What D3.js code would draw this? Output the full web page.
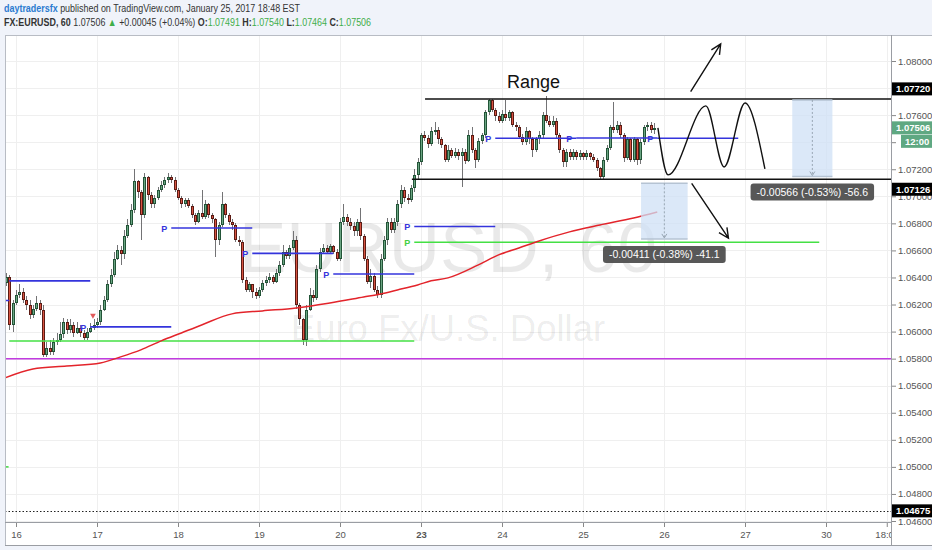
<!DOCTYPE html>
<html><head><meta charset="utf-8">
<script src="https://cdn.jsdelivr.net/npm/d3@7"></script>
<style>
html,body{margin:0;padding:0;background:#f0f3fa;}
svg{display:block;}
text{font-family:"Liberation Sans",Arial,sans-serif;}
</style></head><body>
<svg id="chart" width="932" height="550"></svg>
<script>
// ---------------- DATA ----------------
const symbolText = "EURUSD, 60";
const descriptionText = "Euro Fx/U.S. Dollar";
const startHour = -3;           // hour index of first candle (0 = Jan 16 00:00)
const firstOpen = 1.0636;
const closes = [
 // Jan 16
 1.0640,1.0605,1.0621,1.0627,1.0629,1.0623,1.0620,1.0612,1.0617,1.0621,1.0616,1.0583,1.0588,1.0585,1.0592,1.0594,1.0598,1.0607,1.0601,1.0605,1.0599,1.0603,1.0599,1.0595,1.0600,1.0603,1.0605,
 // Jan 17
 1.0607,1.0616,1.0623,1.0635,1.0642,1.0654,1.0660,1.0657,1.0671,1.0679,1.0690,1.0711,1.0703,1.0686,1.0714,1.0701,1.0694,1.0699,1.0705,1.0708,1.0712,1.0714,1.0712,1.0705,
 // Jan 18
 1.0699,1.0694,1.0697,1.0693,1.0686,1.0681,1.0688,1.0685,1.0694,1.0686,1.0683,1.0668,1.0679,1.0694,1.0686,1.0681,1.0679,1.0668,1.0666,1.0638,1.0631,1.0635,1.0629,1.0626,
 // Jan 19
 1.0631,1.0636,1.0638,1.0640,1.0637,1.0643,1.0649,1.0659,1.0656,1.0662,1.0668,1.0620,1.0609,1.0594,1.0616,1.0627,1.0625,1.0646,1.0659,1.0662,1.0659,1.0663,1.0659,1.0654,
 // Jan 20
 1.0681,1.0685,1.0681,1.0678,1.0674,1.0681,1.0671,1.0654,1.0637,1.0641,1.0631,1.0627,1.0654,1.0668,1.0681,1.0675,1.0681,1.0694,1.0705,1.0699,1.0697,1.0706,1.0716,1.0725,
 // Jan 23
 1.0745,1.0743,1.0739,1.0748,1.0749,1.0742,1.0738,1.0727,1.0734,1.0730,1.0733,1.0730,1.0733,1.0726,1.0745,1.0734,1.0727,1.0741,1.0745,1.0762,1.0771,1.0764,1.0759,1.0756,
 // Jan 24
 1.0761,1.0758,1.0762,1.0753,1.0751,1.0744,1.0740,1.0748,1.0742,1.0734,1.0742,1.0745,1.0760,1.0756,1.0753,1.0756,1.0745,1.0734,1.0725,1.0733,1.0729,1.0733,1.0729,1.0732,
 // Jan 25
 1.0729,1.0732,1.0729,1.0727,1.0721,1.0714,1.0727,1.0736,1.0751,1.0749,1.0753,1.0745,1.0728,1.0742,1.0727,1.0742,1.0727,1.0740,1.0751,1.0753,1.07491,1.07506
];
const highs = [
 1.0643,1.0642,1.0623,1.0631,1.0635,1.0632,1.0626,1.0623,1.0620,1.0626,1.0623,1.0620,1.0592,1.0594,1.0595,1.0599,1.0607,1.0610,1.0609,1.0609,1.0607,1.0607,1.0605,1.0601,1.0603,1.0606,1.0609,
 1.0610,1.0620,1.0626,1.0638,1.0646,1.0659,1.0664,1.0663,1.0675,1.0683,1.0694,1.0720,1.0712,1.0705,1.0717,1.0715,1.0703,1.0701,1.0707,1.0711,1.0714,1.0717,1.0716,1.0714,
 1.0706,1.0700,1.0699,1.0699,1.0694,1.0688,1.0690,1.0705,1.0697,1.0695,1.0688,1.0684,1.0681,1.0703,1.0695,1.0688,1.0683,1.0680,1.0671,1.0668,1.0640,1.0637,1.0635,1.0632,
 1.0633,1.0638,1.0641,1.0643,1.0642,1.0646,1.0652,1.0664,1.0660,1.0664,1.0674,1.0671,1.0621,1.0610,1.0620,1.0632,1.0631,1.0649,1.0662,1.0665,1.0664,1.0665,1.0664,1.0661,
 1.0684,1.0694,1.0687,1.0684,1.0681,1.0683,1.0691,1.0672,1.0656,1.0646,1.0643,1.0634,1.0657,1.0671,1.0684,1.0684,1.0684,1.0697,1.0708,1.0707,1.0702,1.0708,1.0720,1.0728,
 1.0747,1.0748,1.0745,1.0751,1.0755,1.0751,1.0744,1.0739,1.0738,1.0736,1.0736,1.0735,1.0736,1.0735,1.0749,1.0751,1.0736,1.0743,1.0747,1.0764,1.0772,1.0772,1.0765,1.0762,
 1.0764,1.0771,1.0764,1.0763,1.0755,1.0753,1.0746,1.0751,1.0749,1.0744,1.0744,1.0748,1.0762,1.0774,1.0759,1.0759,1.0758,1.0747,1.0736,1.0735,1.0735,1.0735,1.0734,1.0734,
 1.0733,1.0734,1.0733,1.0731,1.0728,1.0722,1.0729,1.0738,1.0753,1.0770,1.0756,1.0755,1.0747,1.0744,1.0743,1.0744,1.0743,1.0742,1.0753,1.0755,1.0755,1.07540
];
const lows = [
 1.0634,1.0601,1.0600,1.0620,1.0625,1.0621,1.0616,1.0609,1.0610,1.0615,1.0612,1.0581,1.0581,1.0583,1.0583,1.0590,1.0592,1.0595,1.0598,1.0599,1.0596,1.0598,1.0596,1.0594,1.0594,1.0599,1.0601,
 1.0603,1.0605,1.0615,1.0622,1.0633,1.0640,1.0653,1.0649,1.0654,1.0669,1.0677,1.0688,1.0699,1.0668,1.0684,1.0697,1.0691,1.0691,1.0697,1.0703,1.0706,1.0710,1.0710,1.0703,
 1.0697,1.0691,1.0692,1.0691,1.0684,1.0679,1.0680,1.0683,1.0683,1.0684,1.0680,1.0655,1.0664,1.0677,1.0684,1.0679,1.0675,1.0666,1.0663,1.0636,1.0629,1.0629,1.0625,1.0624,
 1.0625,1.0629,1.0634,1.0636,1.0635,1.0636,1.0641,1.0648,1.0654,1.0654,1.0660,1.0617,1.0605,1.0590,1.0589,1.0615,1.0622,1.0623,1.0644,1.0657,1.0657,1.0657,1.0657,1.0652,
 1.0652,1.0679,1.0678,1.0675,1.0671,1.0671,1.0668,1.0652,1.0635,1.0632,1.0629,1.0625,1.0625,1.0652,1.0664,1.0673,1.0673,1.0678,1.0691,1.0696,1.0694,1.0696,1.0703,1.0712,
 1.0723,1.0741,1.0736,1.0737,1.0745,1.0739,1.0736,1.0725,1.0725,1.0728,1.0728,1.0727,1.0707,1.0724,1.0725,1.0732,1.0721,1.0725,1.0739,1.0743,1.0760,1.0762,1.0756,1.0754,
 1.0754,1.0756,1.0756,1.0751,1.0748,1.0742,1.0738,1.0738,1.0739,1.0729,1.0733,1.0739,1.0743,1.0754,1.0751,1.0751,1.0743,1.0732,1.0722,1.0722,1.0727,1.0727,1.0727,1.0727,
 1.0727,1.0727,1.0727,1.0725,1.0719,1.0713,1.0713,1.0725,1.0734,1.0747,1.0747,1.0743,1.0725,1.0727,1.0725,1.0725,1.0723,1.0724,1.0738,1.0748,1.0747,1.07464
];
// moving average (read at sample hours)
const maHours  = [-4,5,15,25,31,37,43,49,55,64,73,83,93,103,108,113,119,123,128,137,143,149,155,164,173,183,190];
const maValues = [1.05650,1.05724,1.05746,1.05768,1.05813,1.05865,1.05931,1.05990,1.06049,1.06131,1.06153,1.06175,1.06212,1.06256,1.06278,1.06308,1.06345,1.06375,1.06397,1.06493,1.06567,1.06618,1.06670,1.06737,1.06788,1.06840,1.06884];
// daily pivot levels (blue), weekly (green), monthly (magenta)
const dailyPivotStarts = [-26,-2,22,46,70,94,118,142,166,190];
const dailyPivotValues = [1.0623,1.06375,1.06035,1.06766,1.06578,1.06426,1.06777,1.07429,1.07431,1.07429];
const weeklyPivotStarts = [-2,118];
const weeklyPivotValues = [1.0593,1.0666];
const monthlyLevel = 1.0580;
const leftStubLevel = 1.0500;
const pivotMarkerHour = 22.8, pivotMarkerValue = 1.0612;
// range drawing
const rangeTop = 1.07720, rangeBottom = 1.07126;
const rangeTopStart = 121.2, rangeBottomStart = 117.3;
const rangeLabel = "Range", rangeLabelHour = 145.5, rangeLabelValue = 1.07801;
const lowLine = 1.04675;
// hand-drawn wave & arrows (hour, price)
const waveHours  = [190.2,193.2,204.4,209.8,216.0,221.9];
const waveValues = [1.07505,1.07158,1.07668,1.07217,1.07690,1.07202];
const arrowUp   = {h:[199.9,208.8], v:[1.07773,1.08126]};
const arrowDown = {h:[200.2,211.1], v:[1.07096,1.06690]};
// price-range measurements
const measureHours  = [[185.2,199.0],[230.0,241.9]];
const measureValues = [[1.07096,1.06685],[1.07712,1.07146]];
const measureLabels = ["-0.00411 (-0.38%) -41.1","-0.00566 (-0.53%) -56.6"];
// axes
const priceTicks = [1.046,1.048,1.050,1.052,1.054,1.056,1.058,1.060,1.062,1.064,1.066,1.068,1.070,1.072,1.074,1.076,1.078,1.080];
const hiddenPriceLabels = [1.074,1.078];
const dayTickHours  = [0,24,48,72,96,120,144,168,192,216,240,258];
const dayTickLabels = ["16","17","18","19","20","23","24","25","26","27","30","18:00"];
const blackBadges = [1.07720,1.07126,1.04675];
const lastPrice = 1.07506, countdown = "12:00";
// header
const author = "daytradersfx";
const publishedText = " published on TradingView.com, January 25, 2017 18:48 EST";
const ohlc = {o:"1.07491",h:"1.07540",l:"1.07464",c:"1.07506"};

// ---------------- LAYOUT ----------------
const svg = d3.select("#chart");
const P = {l:5, r:891, t:35, b:522, bottom:545};
const x = d3.scaleLinear().domain([0,240]).range([16,826]);
const y = d3.scaleLinear().domain([1.046,1.080]).range([521,61]);

svg.append("rect").attr("width",932).attr("height",550).attr("fill","#f0f3fa");
svg.append("rect").attr("x",P.l).attr("y",P.t).attr("width",932-P.l).attr("height",P.bottom-P.t).attr("fill","#fff");

const defs = svg.append("defs");
defs.append("clipPath").attr("id","plotclip").append("rect")
  .attr("x",P.l+1).attr("y",P.t+1).attr("width",P.r-P.l-1).attr("height",P.b-P.t-1);
defs.append("clipPath").attr("id","xclip").append("rect")
  .attr("x",P.l).attr("y",P.b).attr("width",P.r-P.l).attr("height",P.bottom-P.b);

const g = svg.append("g").attr("clip-path","url(#plotclip)");

// grid
g.append("g").selectAll("line").data(priceTicks).join("line")
  .attr("x1",P.l).attr("x2",P.r)
  .attr("y1",d=>Math.round(y(d))+0.5).attr("y2",d=>Math.round(y(d))+0.5)
  .attr("stroke","#efefef");
g.append("g").selectAll("line").data(dayTickHours).join("line")
  .attr("y1",P.t).attr("y2",P.b)
  .attr("x1",d=>Math.round(x(d))+0.5).attr("x2",d=>Math.round(x(d))+0.5)
  .attr("stroke","#efefef");

// watermark
g.append("text").attr("x",448).attr("y",272).attr("text-anchor","middle")
  .attr("font-size",71).attr("fill","#000").attr("fill-opacity",0.085).text(symbolText);
g.append("text").attr("x",448).attr("y",341).attr("text-anchor","middle")
  .attr("font-size",36.5).attr("fill","#000").attr("fill-opacity",0.085).text(descriptionText);

// candles
const candles = closes.map((c,i)=>({h:startHour+i, o:i?closes[i-1]:firstOpen, c, hi:highs[i], lo:lows[i]}));
const cg = g.append("g").attr("shape-rendering","crispEdges");
cg.selectAll("line").data(candles).join("line")
  .attr("x1",d=>Math.round(x(d.h))+0.5).attr("x2",d=>Math.round(x(d.h))+0.5)
  .attr("y1",d=>y(Math.max(d.hi,d.o,d.c))).attr("y2",d=>y(Math.min(d.lo,d.o,d.c)))
  .attr("stroke","#737375");
cg.selectAll("rect").data(candles).join("rect")
  .attr("x",d=>Math.round(x(d.h))-0.5).attr("width",2)
  .attr("y",d=>Math.round(y(Math.max(d.o,d.c)))+0.5)
  .attr("height",d=>Math.max(0.5,Math.round(y(Math.min(d.o,d.c)))-Math.round(y(Math.max(d.o,d.c)))-1))
  .attr("fill",d=>d.c>=d.o?"#6ba583":"#d75442")
  .attr("stroke",d=>d.c>=d.o?"#225437":"#5b1a13").attr("stroke-width",1);

// indicator levels
g.append("line").attr("x1",P.l).attr("x2",P.r).attr("y1",y(monthlyLevel)).attr("y2",y(monthlyLevel))
  .attr("stroke","#c13be0").attr("stroke-width",1.5);
g.append("line").attr("x1",P.l).attr("x2",x(startHour+0.8)).attr("y1",y(leftStubLevel)).attr("y2",y(leftStubLevel))
  .attr("stroke","#3fd83f").attr("stroke-width",1.5);
const wk = weeklyPivotStarts.map((s,i)=>({s,e:s+120,v:weeklyPivotValues[i]}));
g.append("g").selectAll("line").data(wk).join("line")
  .attr("x1",d=>x(d.s)).attr("x2",d=>x(d.e)).attr("y1",d=>y(d.v)).attr("y2",d=>y(d.v))
  .attr("stroke","#44e044").attr("stroke-width",1.6);
g.append("g").selectAll("text").data(wk.filter(d=>x(d.s)-10>P.l)).join("text")
  .attr("x",d=>x(d.s)-10).attr("y",d=>y(d.v)+4).attr("font-size",9).attr("font-weight","bold")
  .attr("fill","#44d044").text("P");
const dp = dailyPivotStarts.map((s,i)=>({s,e:s+24,v:dailyPivotValues[i]}));
g.append("g").selectAll("line").data(dp).join("line")
  .attr("x1",d=>x(d.s)).attr("x2",d=>x(d.e)).attr("y1",d=>y(d.v)).attr("y2",d=>y(d.v))
  .attr("stroke","#3434dc").attr("stroke-width",1.6);
g.append("g").selectAll("text").data(dp.filter(d=>x(d.s)-10>P.l)).join("text")
  .attr("x",d=>x(d.s)-10).attr("y",d=>y(d.v)+4).attr("font-size",9).attr("font-weight","bold")
  .attr("fill","#3434dc").text("P");
g.append("path").attr("d",d3.symbol(d3.symbolTriangle,14)())
  .attr("transform",`translate(${x(pivotMarkerHour)},${y(pivotMarkerValue)}) rotate(180)`)
  .attr("fill","#e05a5a");

// moving average
const ma = maHours.map((h,i)=>[h,maValues[i]]);
g.append("path").datum(ma).attr("fill","none").attr("stroke","#e3242b").attr("stroke-width",1.5)
  .attr("d",d3.line().x(d=>x(d[0])).y(d=>y(d[1])).curve(d3.curveMonotoneX));

// range drawing
g.append("line").attr("x1",x(rangeTopStart)).attr("x2",P.r).attr("y1",y(rangeTop)).attr("y2",y(rangeTop))
  .attr("stroke","#111").attr("stroke-width",1.5);
g.append("line").attr("x1",x(rangeBottomStart)).attr("x2",P.r).attr("y1",y(rangeBottom)).attr("y2",y(rangeBottom))
  .attr("stroke","#111").attr("stroke-width",1.5);
g.append("text").attr("x",x(rangeLabelHour)).attr("y",y(rangeLabelValue)).attr("font-size",18)
  .attr("fill","#111").text(rangeLabel);
g.append("line").attr("x1",P.l).attr("x2",P.r).attr("y1",Math.round(y(lowLine))+0.5).attr("y2",Math.round(y(lowLine))+0.5)
  .attr("stroke","#222").attr("stroke-dasharray","1.5,2");

// wave and arrows
const wave = waveHours.map((h,i)=>[h,waveValues[i]]);
g.append("path").datum(wave).attr("fill","none").attr("stroke","#111").attr("stroke-width",1.4)
  .attr("d",d3.line().x(d=>x(d[0])).y(d=>y(d[1])).curve(d3.curveMonotoneX));
function arrow(a){
  const x1=x(a.h[0]),y1=y(a.v[0]),x2=x(a.h[1]),y2=y(a.v[1]);
  const ang=Math.atan2(y2-y1,x2-x1), L=11, sp=0.45;
  const p = `M${x1},${y1}L${x2},${y2}M${x2-L*Math.cos(ang-sp)},${y2-L*Math.sin(ang-sp)}L${x2},${y2}L${x2-L*Math.cos(ang+sp)},${y2-L*Math.sin(ang+sp)}`;
  g.append("path").attr("d",p).attr("fill","none").attr("stroke","#111").attr("stroke-width",1.4);
}
arrow(arrowUp); arrow(arrowDown);

// measurements
measureHours.forEach((hh,i)=>{
  const x0=x(hh[0]),x1=x(hh[1]),yt=y(measureValues[i][0]),yb=y(measureValues[i][1]);
  const mg=svg.append("g");
  mg.append("rect").attr("x",x0).attr("y",yt).attr("width",x1-x0).attr("height",yb-yt)
    .attr("fill","#cfe0f6").attr("fill-opacity",0.75);
  mg.append("line").attr("x1",x0).attr("x2",x1).attr("y1",yt).attr("y2",yt).attr("stroke","#b5c3d3").attr("stroke-width",1.5);
  mg.append("line").attr("x1",x0).attr("x2",x1).attr("y1",yb).attr("y2",yb).attr("stroke","#b5c3d3").attr("stroke-width",1.5);
  const xc=(x0+x1)/2;
  mg.append("line").attr("x1",xc).attr("x2",xc).attr("y1",yt).attr("y2",yb-1)
    .attr("stroke","#98a6b4").attr("stroke-dasharray","2,2");
  mg.append("path").attr("d",`M${xc-2.5},${yb-5}L${xc},${yb-1}L${xc+2.5},${yb-5}`).attr("fill","none").attr("stroke","#98a6b4");
  const lbl=mg.append("g");
  const t=lbl.append("text").attr("x",xc).attr("y",yb+19).attr("text-anchor","middle")
    .attr("font-size",10.5).attr("fill","#fff").text(measureLabels[i]);
  const w=t.node().getComputedTextLength()+12;
  lbl.insert("rect","text").attr("x",xc-w/2).attr("y",yb+7).attr("width",w).attr("height",17).attr("rx",3)
    .attr("fill","#4a4a4a").attr("fill-opacity",0.92);
});

// borders
const bc="#b8bcc4";
svg.append("line").attr("x1",P.l+0.5).attr("x2",P.l+0.5).attr("y1",P.t).attr("y2",P.bottom).attr("stroke",bc);
svg.append("line").attr("x1",P.l).attr("x2",932).attr("y1",P.t+0.5).attr("y2",P.t+0.5).attr("stroke",bc);
svg.append("line").attr("x1",P.r+0.5).attr("x2",P.r+0.5).attr("y1",P.t).attr("y2",P.bottom).attr("stroke","#9a9da3");
svg.append("line").attr("x1",P.l).attr("x2",P.r).attr("y1",P.b+0.5).attr("y2",P.b+0.5).attr("stroke","#9a9da3");
svg.append("line").attr("x1",P.l).attr("x2",932).attr("y1",P.bottom+0.5).attr("y2",P.bottom+0.5).attr("stroke","#9a9da3");

// y axis
const ya = svg.append("g").attr("transform",`translate(${P.r+1},0)`)
  .call(d3.axisRight(y).tickValues(priceTicks)
    .tickFormat(d=>hiddenPriceLabels.some(h=>Math.abs(h-d)<1e-9)?"":d3.format(".5f")(d))
    .tickSize(4).tickPadding(2));
ya.select(".domain").remove();
ya.selectAll("line").attr("stroke","#888");
ya.selectAll("text").attr("font-size",9.5).attr("fill","#555").attr("font-family","'Liberation Sans',Arial,sans-serif");

// x axis
const xa = svg.append("g").attr("clip-path","url(#xclip)").append("g").attr("transform",`translate(0,${P.b+1})`)
  .call(d3.axisBottom(x).tickValues(dayTickHours).tickFormat((d,i)=>dayTickLabels[i]).tickSize(4).tickPadding(4));
xa.select(".domain").remove();
xa.selectAll("line").attr("stroke","#888");
xa.selectAll("text").attr("font-size",9.5).attr("fill","#555").attr("font-family","'Liberation Sans',Arial,sans-serif")
  .attr("font-weight",(d,i)=>dayTickLabels[i]==="23"?"bold":"normal");

// badges
function badge(yc,label,fill,x0){
  const bg=svg.append("g");
  bg.append("rect").attr("x",x0).attr("y",yc-6.5).attr("width",932-x0).attr("height",13).attr("fill",fill);
  bg.append("text").attr("x",x0+4).attr("y",yc+3.5).attr("font-size",9.5).attr("font-weight","bold")
    .attr("fill","#fff").text(label);
}
const fmt=d3.format(".5f");
badge(y(blackBadges[0])-10, fmt(blackBadges[0]), "#000", P.r+1);
badge(y(blackBadges[1])+10, fmt(blackBadges[1]), "#000", P.r+1);
badge(y(blackBadges[2]), fmt(blackBadges[2]), "#000", P.r+1);
badge(y(lastPrice), fmt(lastPrice), "#5fa882", P.r+1);
badge(y(lastPrice)+13.5, countdown, "#5fa882", P.r+10);

// header
const h1 = svg.append("text").attr("x",4).attr("y",12).attr("font-size",10.5)
  .attr("font-family","'Open Sans',sans-serif").attr("textLength",296).attr("lengthAdjust","spacingAndGlyphs");
h1.append("tspan").attr("fill","#2b7bd0").attr("font-weight","bold").text(author);
h1.append("tspan").attr("fill","#333").text(publishedText);
const h2 = svg.append("text").attr("x",4).attr("y",25.5).attr("font-size",10.5)
  .attr("font-family","'Open Sans',sans-serif").attr("textLength",367).attr("lengthAdjust","spacingAndGlyphs");
h2.append("tspan").attr("fill","#333").attr("font-weight","bold").text("FX:EURUSD, 60");
h2.append("tspan").attr("fill","#333").text(" " + fmt(lastPrice) + " ");
h2.append("tspan").attr("fill","#3fae49").text("▲");
h2.append("tspan").attr("fill","#333").text(" +0.00045 (+0.04%) ");
[["O:",ohlc.o],["H:",ohlc.h],["L:",ohlc.l],["C:",ohlc.c]].forEach(([k,v],i)=>{
  h2.append("tspan").attr("fill","#333").attr("font-weight","bold").text((i?" ":"")+k);
  h2.append("tspan").attr("fill","#3fae49").text(v);
});
</script>
</body></html>
